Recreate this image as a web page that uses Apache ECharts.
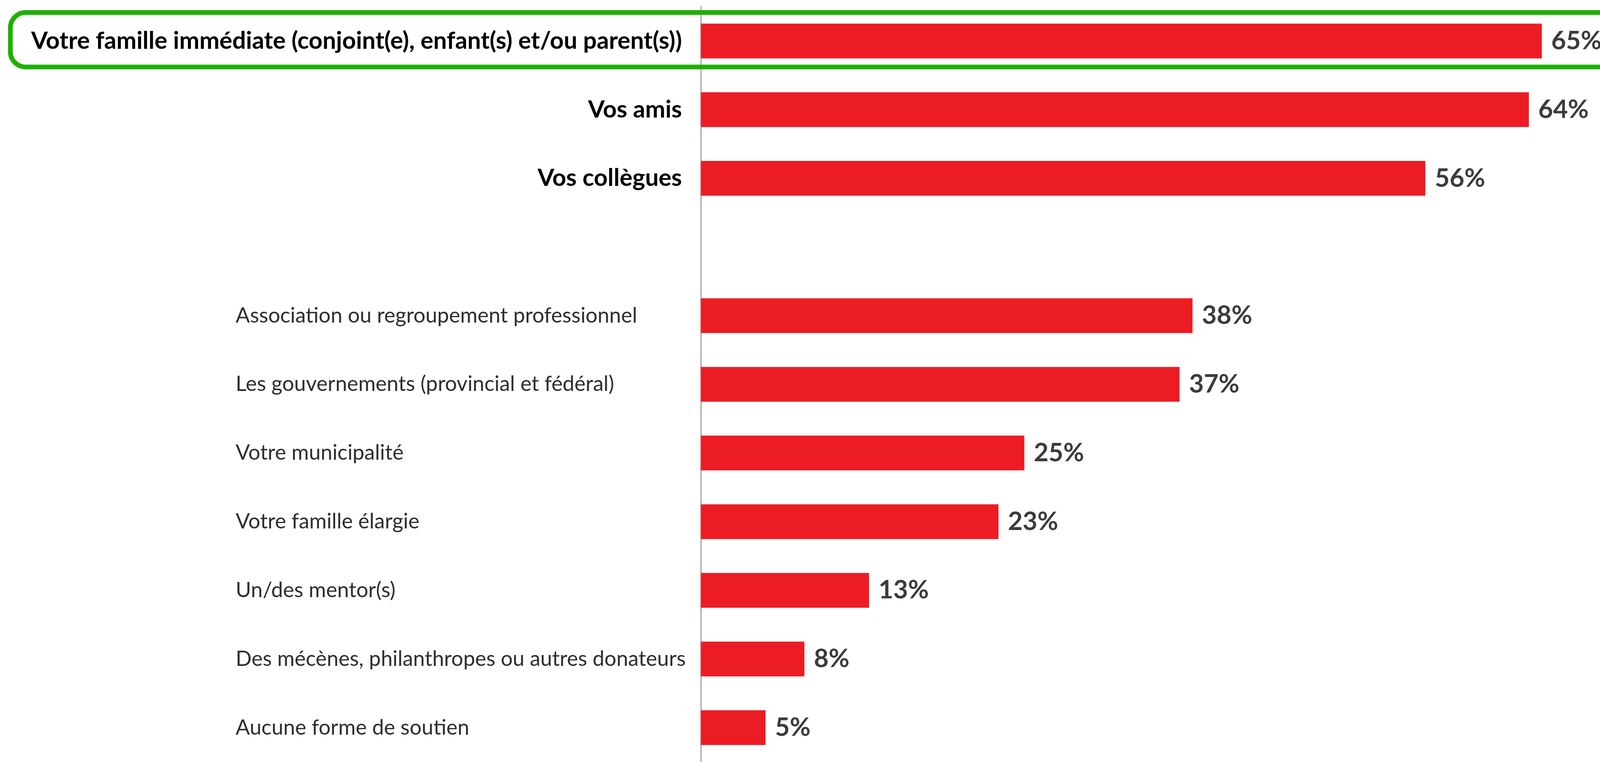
<!DOCTYPE html>
<html>
<head>
<meta charset="utf-8">
<script src="https://cdn.jsdelivr.net/npm/echarts@6/dist/echarts.min.js"></script>
<style>
  html, body { margin: 0; padding: 0; background: #ffffff; overflow: hidden; }
  #chart { width: 100vw; height: 100vh; }
</style>
</head>
<body>
<div id="chart"></div>
<script>
// Categories (top to bottom); '' is the empty gap slot
const categories = [
  'Votre famille immédiate (conjoint(e), enfant(s) et/ou parent(s))',
  'Vos amis',
  'Vos collègues',
  '',
  'Association ou regroupement professionnel',
  'Les gouvernements (provincial et fédéral)',
  'Votre municipalité',
  'Votre famille élargie',
  'Un/des mentor(s)',
  'Des mécènes, philanthropes ou autres donateurs',
  'Aucune forme de soutien'
];
// Categories shown in the large bold style
const primaryCategories = [
  'Votre famille immédiate (conjoint(e), enfant(s) et/ou parent(s))',
  'Vos amis',
  'Vos collègues'
];
// Percentages (null for the gap slot)
const values = [65, 64, 56, null, 38, 37, 25, 23, 13, 8, 5];

const el = document.getElementById('chart');
const W = el.clientWidth || window.innerWidth;
const H = el.clientHeight || window.innerHeight;
const sx = W / 4399, sy = H / 1951, sf = Math.min(sx, sy);

const chart = echarts.init(el, null, { renderer: 'canvas' });

const option = {
  backgroundColor: '#ffffff',
  animation: false,
  grid: { left: 1927 * sx, right: 160 * sx, top: 17 * sy, bottom: -23 * sy, containLabel: false },
  xAxis: { type: 'value', min: 0, max: 65, show: false },
  yAxis: {
    type: 'category',
    inverse: true,
    data: categories,
    axisLine: { show: true, lineStyle: { color: '#bdbdbd', width: 5 * sf } },
    axisTick: { show: false },
    splitLine: { show: false },
    axisLabel: {
      margin: 40 * sx,
      align: 'right',
      verticalAlign: 'middle',
      formatter: function (v) {
        if (v === '') return '';
        return primaryCategories.indexOf(v) >= 0 ? '{b|' + v + '}' : '{s|' + v + '}';
      },
      rich: {
        b: { fontFamily: 'Lato', fontWeight: 'bold', fontSize: 66 * sf, color: '#000000', padding: [0, 12 * sx, 0, 0] },
        s: { fontFamily: 'Lato', fontWeight: 'normal', fontSize: 58 * sf, color: '#2e2e2e', width: 1239 * sx, align: 'left' }
      }
    }
  },
  series: [{
    type: 'bar',
    data: values,
    barWidth: 89 * sy,
    itemStyle: { color: '#ec1c24' },
    label: {
      show: true,
      position: 'right',
      distance: 26 * sx,
      formatter: '{c}%',
      fontFamily: 'Lato',
      fontWeight: 'bold',
      fontSize: 70 * sf,
      color: '#3c3c3c'
    }
  }],
  graphic: [{
    type: 'rect',
    z: 100,
    shape: { x: 28.5 * sx, y: 32 * sy, width: W + 200, height: 139.5 * sy, r: 42 * sf },
    style: { fill: 'none', stroke: '#1db100', lineWidth: 13 * sf }
  }]
};

chart.setOption(option);
</script>
</body>
</html>
